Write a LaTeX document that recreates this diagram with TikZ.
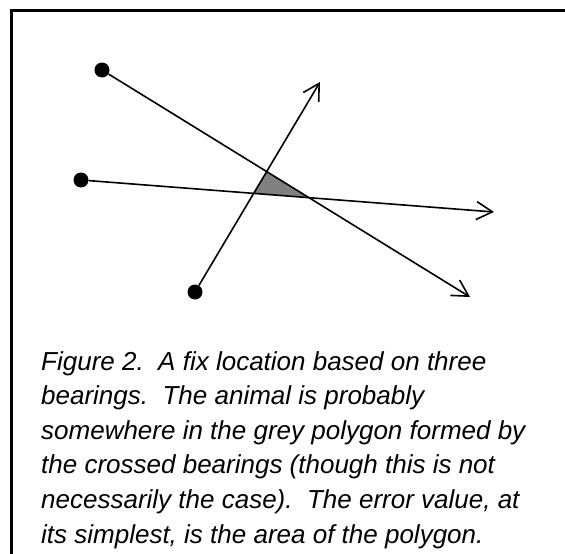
\documentclass[tikz,border=0pt]{standalone}
\usepackage{fontspec}
\setmainfont{Liberation Sans}
\usetikzlibrary{arrows.meta}

\tikzset{
  dot/.style={circle,fill=black,inner sep=0pt,minimum size=15pt},
  bearing/.style={line width=1.6pt,-{Straight Barb[length=16pt,width=18pt,line width=1.6pt]}},
  caption/.style={anchor=north west,inner sep=0pt,align=left,
    font=\fontsize{26}{34.6}\selectfont\itshape}
}

\begin{document}
\begin{tikzpicture}[x=1pt,y=-1pt]
		\useasboundingbox (0,0) rectangle (565,554);
		\draw[line width=3pt] (11,600) -- (11,10) -- (600,10);
		% the three bearings
		\node[dot] (ta) at (102,70) {};
		\node[dot] (tb) at (81,180) {};
		\node[dot] (tc) at (195,292) {};
		\coordinate (ha) at (470,297);
		\coordinate (hb) at (494,212);
		\coordinate (hc) at (320,82);
		% grey polygon where they cross
		\fill[gray] (intersection of ta--ha and tc--hc)
			-- (intersection of tb--hb and tc--hc)
			-- (intersection of ta--ha and tb--hb) -- cycle;
		\draw[bearing] (ta) -- (ha);
		\draw[bearing] (tb) -- (hb);
		\draw[bearing] (tc) -- (hc);
		\node[caption] (cap) at (41,351) {Figure 2.\ \ A fix location based on three\\
			bearings.\ \ The animal is probably\\
			somewhere in the grey polygon formed by\\
			the crossed bearings (though this is not\\
			necessarily the case).\ \ The error value, at\\
			its simplest, is the area of the polygon.};
	\end{tikzpicture}
\end{document}
